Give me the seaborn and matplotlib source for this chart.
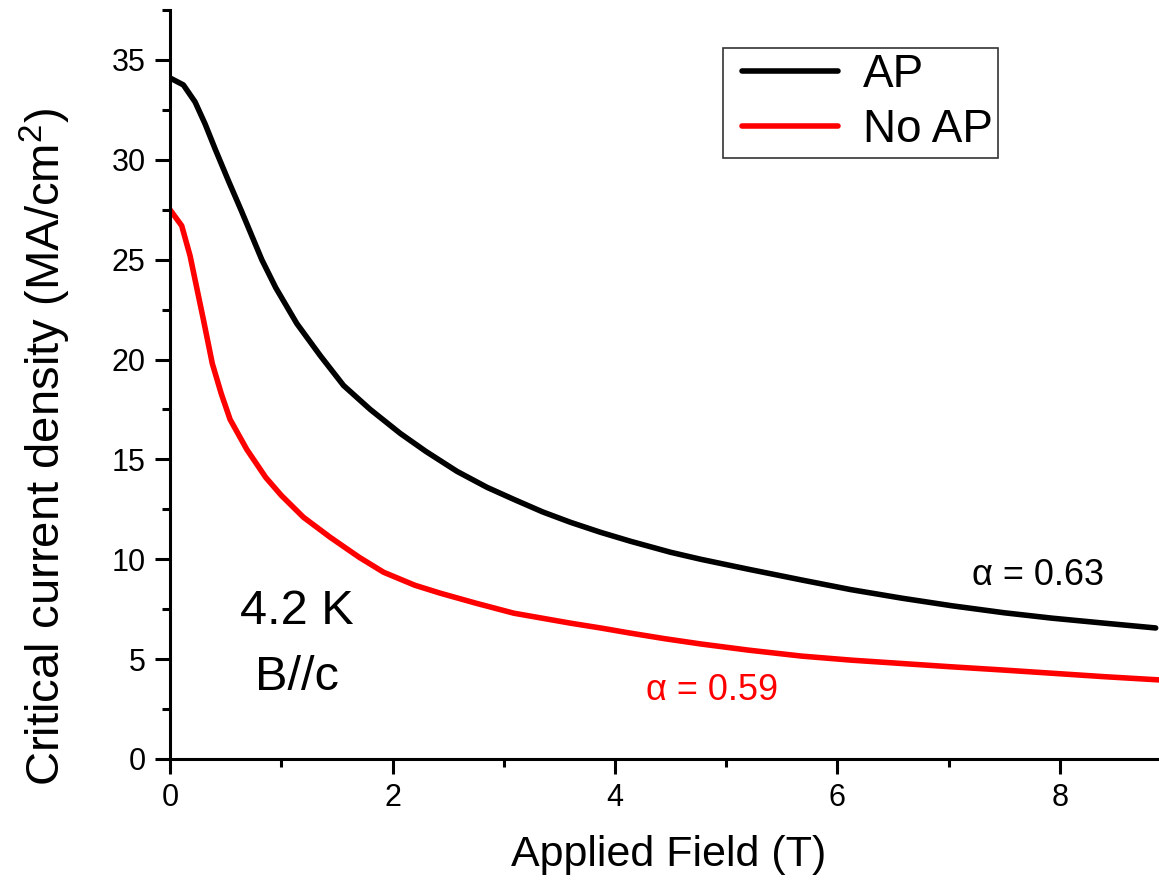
import matplotlib
matplotlib.use("Agg")
import matplotlib.pyplot as plt
from matplotlib.ticker import MultipleLocator
from matplotlib.lines import Line2D
from matplotlib.legend_handler import HandlerLine2D
import seaborn as sns
import pandas as pd

# Critical current density vs applied field at 4.2 K, B//c
field_ap = [0, 0.12, 0.225, 0.315, 0.405, 0.525, 0.645, 0.825, 0.95, 1.14, 1.35,
            1.56, 1.8, 2.07, 2.3, 2.58, 2.85, 3.09, 3.35, 3.6, 3.87, 4.14, 4.5,
            4.77, 5.2, 5.68, 6.12, 6.58, 7.03, 7.5, 7.93, 8.4, 8.86]
jc_ap = [34.1, 33.75, 32.9, 31.8, 30.55, 28.95, 27.4, 25.0, 23.6, 21.8, 20.2,
         18.7, 17.5, 16.3, 15.4, 14.4, 13.6, 13.0, 12.37, 11.85, 11.35, 10.9, 10.35,
         10.0, 9.5, 8.96, 8.48, 8.05, 7.67, 7.32, 7.05, 6.8, 6.56]

field_noap = [0, 0.105, 0.18, 0.30, 0.38, 0.46, 0.54, 0.69, 0.86, 1.0, 1.2, 1.44,
              1.7, 1.92, 2.2, 2.43, 2.75, 3.09, 3.6, 3.87, 4.14, 4.45, 4.77, 5.2,
              5.68, 6.12, 6.58, 7.01, 7.5, 7.91, 8.4, 8.89]
jc_noap = [27.5, 26.7, 25.2, 22.0, 19.8, 18.3, 17.0, 15.5, 14.1, 13.2, 12.1, 11.1,
           10.1, 9.35, 8.7, 8.3, 7.8, 7.3, 6.8, 6.56, 6.3, 6.02, 5.76, 5.45,
           5.15, 4.95, 4.78, 4.62, 4.45, 4.3, 4.12, 3.96]

series_names = ["AP", "No AP"]
series_colors = ["#000000", "#ff0000"]
alpha_labels = ["\u03b1 = 0.63", "\u03b1 = 0.59"]

sns.set_style("ticks")
plt.rcParams["font.family"] = ["Liberation Sans", "DejaVu Sans"]
plt.rcParams["mathtext.fontset"] = "custom"
plt.rcParams["mathtext.rm"] = "Liberation Sans"
plt.rcParams["mathtext.it"] = "Liberation Sans:italic"
plt.rcParams["text.color"] = "black"
plt.rcParams["axes.labelcolor"] = "black"
plt.rcParams["xtick.color"] = "black"
plt.rcParams["ytick.color"] = "black"


class InsetLineHandler(HandlerLine2D):
    """Legend line that leaves a small gap on the left of its handle box."""

    def __init__(self, inset=0.13, **kw):
        super().__init__(**kw)
        self.inset = inset

    def get_xdata(self, legend, xdescent, ydescent, width, height, fontsize):
        x0 = -xdescent + self.inset * width
        x1 = -xdescent + width
        return [x0, x1], [x0, x1]


df = pd.concat([
    pd.DataFrame({"field": field_ap, "jc": jc_ap, "sample": series_names[0]}),
    pd.DataFrame({"field": field_noap, "jc": jc_noap, "sample": series_names[1]}),
])

fig = plt.figure(figsize=(11.59, 8.81), dpi=100)
ax = fig.add_axes([0.1467, 0.1385, 0.8533, 0.8501])

sns.lineplot(data=df, x="field", y="jc", hue="sample", hue_order=series_names,
             palette=series_colors, sort=False, estimator=None, linewidth=4.0,
             legend=False, ax=ax)

ax.set_xlim(0, 8.89)
ax.set_ylim(0, 37.5)
ax.xaxis.set_major_locator(MultipleLocator(2))
ax.xaxis.set_minor_locator(MultipleLocator(1))
ax.yaxis.set_major_locator(MultipleLocator(5))
ax.yaxis.set_minor_locator(MultipleLocator(2.5))

for side in ["top", "right"]:
    ax.spines[side].set_visible(False)
for side in ["left", "bottom"]:
    ax.spines[side].set_linewidth(2.2)
    ax.spines[side].set_color("black")

ax.tick_params(which="major", direction="out", length=10.5, width=2.2,
               labelsize=22, pad=7, colors="black")
ax.tick_params(which="minor", direction="out", length=5.5, width=2.2, colors="black")

ax.set_xlabel("Applied Field (T)", fontsize=31)
ax.set_ylabel(r"Critical current density (MA/cm$^\mathrm{2}$)", fontsize=34)
ax.xaxis.label.set_va("center")
ax.yaxis.label.set_va("center")
ax.xaxis.set_label_coords(0.504, -0.128)
ax.yaxis.set_label_coords(-0.126, 0.417)

# Annotations
ax.text(1.14, 7.36, "4.2 K", fontsize=35, ha="center", va="center")
ax.text(1.14, 4.1, "B//c", fontsize=35, ha="center", va="center")
ax.text(7.8, 9.2, alpha_labels[0], fontsize=26, color=series_colors[0],
        ha="center", va="center")
ax.text(4.87, 3.45, alpha_labels[1], fontsize=26, color=series_colors[1],
        ha="center", va="center")

handles = [Line2D([], [], color=c, linewidth=4.0) for c in series_colors]
leg = ax.legend(handles, series_names, loc="upper left",
                bbox_to_anchor=(723 / 1159, 1 - 48 / 881),
                bbox_transform=fig.transFigure, fontsize=33, frameon=True,
                fancybox=False, edgecolor="black", handlelength=2.4,
                handletextpad=0.55, labelspacing=0.25, borderpad=0.11,
                borderaxespad=0,
                handler_map={Line2D: InsetLineHandler(inset=0.13)})
leg.get_frame().set_linewidth(1.2)

fig.savefig("out.png", dpi=100)
